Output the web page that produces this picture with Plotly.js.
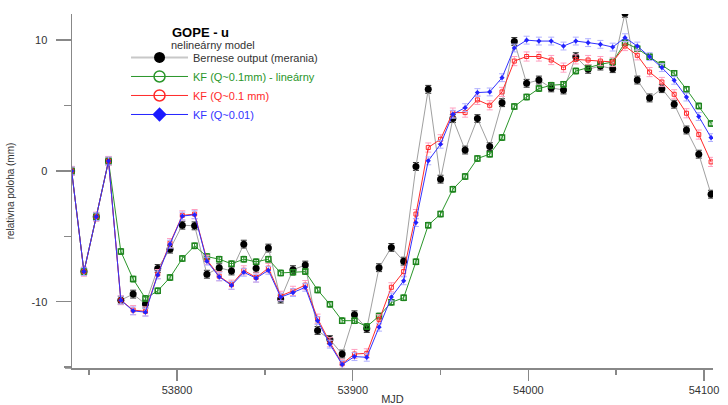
<!DOCTYPE html>
<html>
<head>
<meta charset="utf-8">
<script src="https://cdn.plot.ly/plotly-3.0.1.min.js"></script>
<style>html,body{margin:0;padding:0;background:#fff}#chart{width:728px;height:405px}</style>
</head>
<body>
<div id="chart"></div>
<script>
// MJD epochs (weekly)
const mjd = [53740,53747,53754,53761,53768,53775,53782,53789,53796,53803,53810,53817,53824,53831,53838,53845,53852,53859,53866,53873,53880,53887,53894,53901,53908,53915,53922,53929,53936,53943,53950,53957,53964,53971,53978,53985,53992,53999,54006,54013,54020,54027,54034,54041,54048,54055,54062,54069,54076,54083,54090,54097,54104];

const bernese = [0.0,-7.7,-3.5,0.76,-9.88,-9.42,-10.18,-7.46,-5.98,-4.15,-4.2,-7.9,-7.4,-7.65,-5.6,-7.45,-5.9,-9.8,-7.55,-7.2,-12.2,-12.9,-14.0,-11.0,-12.05,-7.4,-5.85,-6.9,0.34,6.24,-0.63,4.0,1.6,4.0,1.86,5.22,9.9,6.7,6.95,6.35,6.19,8.74,7.77,8.02,7.82,12.05,6.95,5.58,6.29,5.1,3.13,1.28,-1.78];

const kfLinear = [0.0,-7.7,-3.5,0.76,-6.16,-8.27,-9.75,-9.17,-8.15,-6.7,-5.73,-6.55,-6.75,-7.1,-6.75,-6.95,-6.75,-7.8,-7.75,-7.7,-9.1,-10.2,-11.45,-11.45,-11.9,-11.1,-10.05,-9.7,-6.95,-4.15,-3.3,-1.4,-0.43,0.95,1.28,2.55,4.92,5.65,6.3,6.55,6.62,7.64,7.9,8.15,8.33,9.81,9.35,8.74,8.13,7.46,6.24,4.97,3.62];

const kf01 = [0.0,-7.7,-3.5,0.76,-9.88,-10.64,-10.74,-7.89,-5.52,-3.4,-3.3,-6.8,-8.05,-8.7,-7.6,-8.15,-7.43,-9.55,-9.17,-8.73,-11.3,-13.1,-14.75,-14.0,-13.95,-11.35,-8.9,-7.7,-3.3,1.79,2.42,4.46,4.46,5.43,5.02,6.04,8.4,8.75,8.75,8.48,7.9,8.53,8.48,8.4,8.33,9.55,8.84,7.56,6.8,5.86,4.41,2.78,0.69];

const kf001 = [0.0,-7.7,-3.5,0.76,-9.88,-10.7,-10.8,-7.95,-5.6,-3.45,-3.35,-6.9,-8.1,-8.75,-7.75,-8.2,-7.6,-9.65,-9.3,-8.9,-11.45,-13.25,-14.8,-14.2,-14.25,-11.95,-9.65,-8.4,-3.95,0.77,2.04,4.33,4.84,5.99,6.04,7.13,9.4,10.0,9.93,9.93,9.55,9.93,9.81,9.68,9.47,10.19,9.55,8.74,7.9,6.93,5.65,4.16,2.55];

const errBernese = 0.3, errLinear = 0.22, err01 = 0.35, err001 = 0.3;

const seriesNames = [
  '<span style="color:#333333">Bernese output (merania)</span>',
  '<span style="color:#2a962a">KF (Q~0.1mm) - lineárny</span>',
  '<span style="color:#ff2a2a">KF (Q~0.1 mm)</span>',
  '<span style="color:#3333ff">KF (Q~0.01)</span>'
];
const yTickVals = [-10, 0, 10];
const yTickText = ['-10', '0', '10'];
const xTickVals = [53800, 53900, 54000, 54100];

const FONT = '"Liberation Sans", Arial, sans-serif';

const traces = [
  {x: mjd, y: bernese, mode: 'lines+markers', showlegend: false, legendgroup: 'b',
   line: {color: '#a0a0a0', width: 1},
   marker: {symbol: 'circle', size: 7, color: '#000'},
   error_y: {type: 'constant', value: errBernese, color: '#333', thickness: 1, width: 3}},
  {x: mjd, y: kfLinear, mode: 'lines+markers', showlegend: false, legendgroup: 'g',
   line: {color: '#2a962a', width: 1},
   marker: {symbol: 'square-open', size: 5, color: '#1e841e', line: {width: 1.5}},
   error_y: {type: 'constant', value: errLinear, color: '#2a962a', thickness: 1, width: 2}},
  {x: mjd, y: kf01, mode: 'lines+markers', showlegend: false, legendgroup: 'r',
   line: {color: '#ff2a2a', width: 1},
   marker: {symbol: 'square-open', size: 4, color: '#ff2a2a', line: {width: 1}},
   error_y: {type: 'constant', value: err01, color: '#ffa0c0', thickness: 1, width: 3}},
  {x: mjd, y: kf001, mode: 'lines+markers', showlegend: false, legendgroup: 'bl',
   line: {color: '#3333ff', width: 1},
   marker: {symbol: 'diamond', size: 4, color: '#2222ff'},
   error_y: {type: 'constant', value: err001, color: '#b0b0ff', thickness: 1, width: 3}},
  // legend entries
  {x: [null], y: [null], mode: 'lines+markers', name: seriesNames[0], legendgroup: 'b',
   line: {color: '#c8c8c8', width: 2}, marker: {symbol: 'circle', size: 11, color: '#000'}},
  {x: [null], y: [null], mode: 'lines+markers', name: seriesNames[1], legendgroup: 'g',
   line: {color: '#2a962a', width: 1}, marker: {symbol: 'circle-open', size: 11, color: '#2a962a', line: {width: 1.5}}},
  {x: [null], y: [null], mode: 'lines+markers', name: seriesNames[2], legendgroup: 'r',
   line: {color: '#ff2a2a', width: 1}, marker: {symbol: 'circle-open', size: 11, color: '#ff2a2a', line: {width: 1.5}}},
  {x: [null], y: [null], mode: 'lines+markers', name: seriesNames[3], legendgroup: 'bl',
   line: {color: '#2222ff', width: 1}, marker: {symbol: 'diamond', size: 11, color: '#1a1aff'}}
];

const L = 72, R = 15.3, T = 14, B = 36.7;
const PW = 728 - L - R, PH = 405 - T - B;

const layout = {
  width: 728, height: 405,
  margin: {l: L, r: R, t: T, b: B, pad: 0},
  paper_bgcolor: '#fff', plot_bgcolor: '#fff',
  font: {family: FONT, size: 11, color: '#333'},
  showlegend: true,
  legend: {x: (126 - L) / PW, y: 1 - (43 - T) / PH, xanchor: 'left', yanchor: 'top',
           bgcolor: 'rgba(0,0,0,0)', itemwidth: 57, tracegroupgap: 0,
           font: {family: FONT, size: 11}},
  xaxis: {range: [53740.2, 54105.1], showgrid: false, zeroline: false,
          showline: true, linecolor: '#888', linewidth: 1.5,
          ticks: 'outside', ticklen: 11, tickwidth: 1.5, tickcolor: '#888',
          tickmode: 'array', tickvals: xTickVals, ticktext: xTickVals.map(String),
          tickfont: {family: FONT, size: 11, color: '#333'},
          minor: {tickmode: 'linear', tick0: 53750, dtick: 50, ticklen: 5, tickwidth: 1.5, tickcolor: '#888', showgrid: false},
          title: {text: 'MJD', font: {family: FONT, size: 11, color: '#333'}, standoff: 10}},
  yaxis: {range: [-15.07, 12.0], showgrid: false, zeroline: false,
          showline: true, linecolor: '#888', linewidth: 1.5,
          ticks: 'outside', ticklen: 15, tickwidth: 1.5, tickcolor: '#888',
          tickmode: 'array', tickvals: yTickVals, ticktext: yTickText,
          ticklabelstandoff: 6,
          tickfont: {family: FONT, size: 11, color: '#333'},
          minor: {tickmode: 'linear', tick0: 0, dtick: 5, ticklen: 7, tickwidth: 1.5, tickcolor: '#888', showgrid: false},
          title: {text: 'relativna poloha (mm)', font: {family: FONT, size: 10, color: '#333'}, standoff: 15}},
  shapes: [
    {type: 'line', xref: 'paper', yref: 'paper', x0: -7 / PW, x1: 0, y0: 0, y1: 0,
     line: {color: '#888', width: 1.5}}
  ],
  annotations: [
    {xref: 'paper', yref: 'paper', x: (170 - L) / PW, y: 1 - (33 - T) / PH, xanchor: 'left', yanchor: 'middle',
     text: '<b>GOPE - u</b>', showarrow: false, font: {family: FONT, size: 13, color: '#000'}},
    {xref: 'paper', yref: 'paper', x: (169 - L) / PW, y: 1 - (45 - T) / PH, xanchor: 'left', yanchor: 'middle',
     text: 'nelineárny model', showarrow: false, font: {family: FONT, size: 11, color: '#333'}}
  ]
};

Plotly.newPlot('chart', traces, layout, {displayModeBar: false, staticPlot: true});
</script>
</body>
</html>
